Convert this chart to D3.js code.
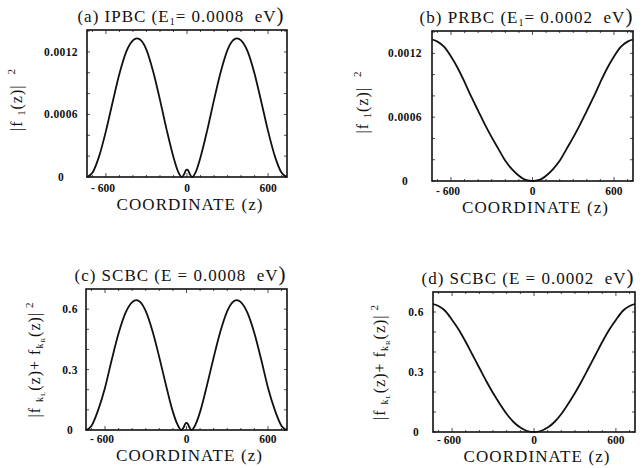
<!DOCTYPE html>
<html>
<head>
<meta charset="utf-8">
<script src="https://cdn.jsdelivr.net/npm/d3@7"></script>
<style>
  body { margin: 0; background: #fff; }
  text { font-family: "Liberation Serif", "DejaVu Serif", serif; fill: #111; }
</style>
</head>
<body>
<svg id="chart" width="643" height="468"></svg>
<script>
// coordinate grid shared by the two-lobe panels (a, c)
const zLobes = [-740, -700, -650, -600, -550, -500, -450, -400, -370, -340, -300, -250, -200, -150, -100, -65, -38,
  -20, -10, 0, 10, 20, 38, 65, 100, 150, 200, 250, 300, 340, 370, 400, 450, 500, 550, 600, 650, 700, 740];
const fA = [0, 0.00004, 0.00020, 0.00044, 0.00072, 0.00099, 0.00120, 0.00131, 0.00133, 0.00131, 0.00122, 0.00101,
  0.00074, 0.00045, 0.00019, 0.00005, 0, 0.00003, 0.00006, 0.00007, 0.00006, 0.00003, 0, 0.00005, 0.00019, 0.00045,
  0.00074, 0.00101, 0.00122, 0.00131, 0.00133, 0.00131, 0.00120, 0.00099, 0.00072, 0.00044, 0.00020, 0.00004, 0];
const fC = [0, 0.02, 0.10, 0.21, 0.35, 0.48, 0.58, 0.635, 0.645, 0.635, 0.59, 0.49,
  0.36, 0.22, 0.09, 0.025, 0, 0.015, 0.03, 0.035, 0.03, 0.015, 0, 0.025, 0.09, 0.22,
  0.36, 0.49, 0.59, 0.635, 0.645, 0.635, 0.58, 0.48, 0.35, 0.21, 0.10, 0.02, 0];

// coordinate grid for the single-valley panels (b, d)
const zValley = [-740, -700, -650, -600, -550, -500, -450, -400, -350, -300, -250, -200, -150, -100, -50, 0,
  50, 100, 150, 200, 250, 300, 350, 400, 450, 500, 550, 600, 650, 700, 740];
const fB = [0.00133, 0.00131, 0.00126, 0.00117, 0.00106, 0.00093, 0.00079, 0.00066, 0.00053, 0.00041, 0.00030,
  0.00019, 0.00011, 0.00005, 0.00001, 0, 0.00001, 0.00005, 0.00011, 0.00019, 0.00030, 0.00041, 0.00053, 0.00066,
  0.00079, 0.00093, 0.00106, 0.00117, 0.00126, 0.00131, 0.00133];
const fD = [0.64, 0.63, 0.605, 0.56, 0.51, 0.45, 0.385, 0.32, 0.255, 0.195, 0.14,
  0.09, 0.05, 0.022, 0.005, 0, 0.005, 0.022, 0.05, 0.09, 0.14, 0.195, 0.255, 0.32,
  0.385, 0.45, 0.51, 0.56, 0.605, 0.63, 0.64];

const xTicks = [-600, 0, 600];
const yTicksSmall = [0, 0.0006, 0.0012];
const yTicksBig = [0, 0.3, 0.6];

const svg = d3.select("#chart");

const panels = [
  { z: zLobes, f: fA, box: [87, 287, 30, 177], ymax: 0.00141, yticks: yTicksSmall, yfmt: d => d === 0 ? "0" : d.toFixed(4),
    labX: 61, title: "a", name: "IPBC", E: "1", val: "0.0008", ylab: "single", ylabX: 22, tickOff: 15, xlabOff: 33 },
  { z: zValley, f: fB, box: [432, 633, 31, 181], ymax: 0.00141, yticks: yTicksSmall, yfmt: d => d === 0 ? "0" : d.toFixed(4),
    labX: 405, title: "b", name: "PRBC", E: "1", val: "0.0002", ylab: "single", ylabX: 368, tickOff: 14, xlabOff: 32 },
  { z: zLobes, f: fC, box: [86, 287, 289, 430], ymax: 0.70, yticks: yTicksBig, yfmt: d => d === 0 ? "0" : d.toFixed(1),
    labX: 70, title: "c", name: "SCBC", E: null, val: "0.0008", ylab: "sum", ylabX: 40, tickOff: 13, xlabOff: 31 },
  { z: zValley, f: fD, box: [433, 635, 292, 432], ymax: 0.70, yticks: yTicksBig, yfmt: d => d === 0 ? "0" : d.toFixed(1),
    labX: 416, title: "d", name: "SCBC", E: null, val: "0.0002", ylab: "sum", ylabX: 385, tickOff: 12, xlabOff: 30 }
];

panels.forEach(p => {
  const [x0, x1, y0, y1] = p.box;
  const x = d3.scaleLinear().domain([-740, 740]).range([x0, x1]);
  const y = d3.scaleLinear().domain([0, p.ymax]).range([y1, y0]);
  const g = svg.append("g");

  // inward tick marks on all four sides
  const minorX = d3.range(-700, 701, 100);
  g.selectAll(".tb").data(minorX).enter().append("line")
    .attr("x1", d => x(d)).attr("x2", d => x(d))
    .attr("y1", y1).attr("y2", d => y1 - (d % 600 === 0 ? 4 : 2))
    .attr("stroke", "#222").attr("stroke-width", 0.8);
  g.selectAll(".tt").data(minorX).enter().append("line")
    .attr("x1", d => x(d)).attr("x2", d => x(d))
    .attr("y1", y0).attr("y2", d => y0 + (d % 600 === 0 ? 4 : 2))
    .attr("stroke", "#222").attr("stroke-width", 0.8);
  const yt = d3.range(0, p.ymax, p.yticks[1] / 3);
  g.selectAll(".tl").data(yt).enter().append("line")
    .attr("x1", x0).attr("x2", x0 + 3)
    .attr("y1", d => y(d)).attr("y2", d => y(d))
    .attr("stroke", "#222").attr("stroke-width", 0.8);
  g.selectAll(".tr").data(yt).enter().append("line")
    .attr("x1", x1).attr("x2", x1 - 3)
    .attr("y1", d => y(d)).attr("y2", d => y(d))
    .attr("stroke", "#222").attr("stroke-width", 0.8);

  g.append("rect")
    .attr("x", x0).attr("y", y0)
    .attr("width", x1 - x0).attr("height", y1 - y0)
    .attr("fill", "none").attr("stroke", "#111").attr("stroke-width", 1.6);

  // tick labels
  g.selectAll(".xl").data(xTicks).enter().append("text")
    .attr("x", d => x(d) + (d < 0 ? -3 : 0)).attr("y", y1 + p.tickOff)
    .attr("text-anchor", "middle")
    .attr("font-size", 11.5).attr("font-weight", "bold")
    .text(d => d < 0 ? "- " + Math.abs(d) : d);
  g.selectAll(".yl").data(p.yticks).enter().append("text")
    .attr("x", p.labX).attr("y", d => y(d) + 4)
    .attr("text-anchor", "middle")
    .attr("font-size", 11.5).attr("font-weight", "bold")
    .attr("letter-spacing", 0.4)
    .text(p.yfmt);

  // curve
  const pts = p.z.map((z, i) => [z, p.f[i]]);
  g.append("path")
    .datum(pts)
    .attr("fill", "none").attr("stroke", "#111").attr("stroke-width", 1.8)
    .attr("d", d3.line().x(d => x(d[0])).y(d => y(d[1])).curve(d3.curveMonotoneX));

  // x axis title
  g.append("text")
    .attr("x", (x0 + x1) / 2 + 3).attr("y", y1 + p.xlabOff)
    .attr("text-anchor", "middle")
    .attr("font-size", 17).attr("letter-spacing", 1.1)
    .text("COORDINATE (z)");

  // panel title
  const t = g.append("text")
    .attr("x", (x0 + x1) / 2 - 6).attr("y", y0 - 8)
    .attr("text-anchor", "middle")
    .attr("font-size", 17).attr("letter-spacing", 1);
  t.append("tspan").text(`(${p.title}) ${p.name} (E`);
  if (p.E) {
    t.append("tspan").attr("font-size", 10).attr("dy", 3).text(p.E);
    t.append("tspan").attr("dy", -3).text(`= ${p.val}\u00a0\u00a0eV`);
  } else {
    t.append("tspan").text(` = ${p.val}\u00a0\u00a0eV`);
  }
  t.append("tspan").attr("font-size", 21).attr("dy", 0).text(")");

  // y axis title (rotated)
  const cy = (y0 + y1) / 2 + (p.ylab === "single" ? -4 : 0);
  const yl = g.append("text")
    .attr("transform", `translate(${p.ylabX},${cy}) rotate(-90)`)
    .attr("text-anchor", "middle")
    .attr("font-size", 16).attr("letter-spacing", 1);
  if (p.ylab === "single") {
    yl.append("tspan").text("|f ");
    yl.append("tspan").attr("font-size", 10).attr("dy", 3).text("1");
    yl.append("tspan").attr("dy", -3).text("(z)|");
    yl.append("tspan").attr("font-size", 11).attr("dy", -7).attr("dx", 10).text("2");
  } else {
    yl.append("tspan").text("|f ");
    yl.append("tspan").attr("font-size", 10).attr("dy", 3).text("k");
    yl.append("tspan").attr("font-size", 7).attr("dy", 2).text("L");
    yl.append("tspan").attr("dy", -5).text("(z)+ f");
    yl.append("tspan").attr("font-size", 10).attr("dy", 3).text("k");
    yl.append("tspan").attr("font-size", 7).attr("dy", 2).text("R");
    yl.append("tspan").attr("dy", -5).text("(z)|");
    yl.append("tspan").attr("font-size", 11).attr("dy", -7).attr("dx", 4).text("2");
  }
});
</script>
</body>
</html>
